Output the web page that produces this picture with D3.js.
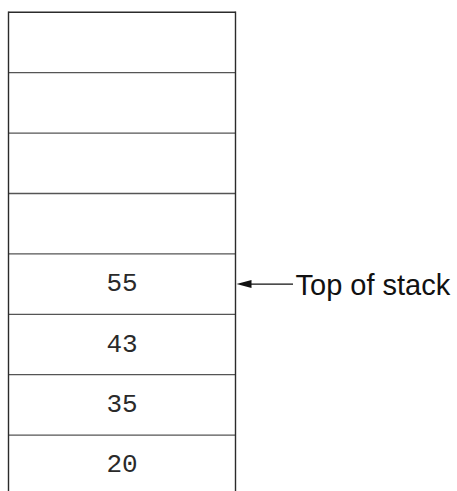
<!DOCTYPE html>
<html><head><meta charset="utf-8">
<script src="https://cdn.jsdelivr.net/npm/d3@7"></script>
<style>html,body{margin:0;padding:0;background:#fff;}svg{display:block;}</style>
</head><body>
<script>
// Stack contents, bottom to top
const stackValues = [20, 35, 43, 55];
const totalSlots = 8;
const pointerLabel = "Top of stack";

(function () {
const W = 457, H = 491;
const xLeft = 8.5, xRight = 235.5, yTop = 12.3, rowH = 60.4;

const svg = d3.select("body").append("svg").attr("width", W).attr("height", H);

// slot index 0 = bottom
const slots = d3.range(totalSlots);
const y = d3.scaleBand().domain(slots.slice().reverse()).range([yTop, yTop + rowH * totalSlots]).padding(0);

const stroke = "#2b2b2b";
svg.append("line").attr("x1", xLeft).attr("x2", xRight).attr("y1", yTop).attr("y2", yTop)
  .attr("stroke", stroke).attr("stroke-width", 1.4);
svg.selectAll("line.sep").data(slots.filter(s => s > 0)).join("line").attr("class", "sep")
  .attr("x1", xLeft).attr("x2", xRight)
  .attr("y1", d => y(d) + y.bandwidth()).attr("y2", d => y(d) + y.bandwidth())
  .attr("stroke", "#555").attr("stroke-width", 1.3);
[xLeft, xRight].forEach(x => svg.append("line").attr("x1", x).attr("x2", x).attr("y1", yTop - 0.7).attr("y2", H)
  .attr("stroke", stroke).attr("stroke-width", 1.4));

const cx = (xLeft + xRight) / 2;
svg.selectAll("text.val").data(stackValues).join("text").attr("class", "val")
  .attr("x", cx).attr("y", (d, i) => y(i) + y.bandwidth() / 2 + 7)
  .attr("text-anchor", "middle")
  .attr("font-family", "'Liberation Mono', 'DejaVu Sans Mono', monospace")
  .attr("font-size", 26).attr("fill", "#2a2a2a")
  .text(d => d);

const topIdx = stackValues.length - 1;
const py = y(topIdx) + y.bandwidth() / 2;
svg.append("line").attr("x1", xRight + 13).attr("x2", 293).attr("y1", py).attr("y2", py)
  .attr("stroke", "#111").attr("stroke-width", 1.3);
svg.append("path").attr("d", `M${xRight + 1},${py} L${xRight + 16},${py - 4} L${xRight + 16},${py + 4} Z`).attr("fill", "#111");
svg.append("text").attr("x", 295.5).attr("y", py + 11)
  .attr("font-family", "'Liberation Sans', Arial, sans-serif").attr("font-size", 29).attr("fill", "#111")
  .text(pointerLabel);
})();
</script>
</body></html>
